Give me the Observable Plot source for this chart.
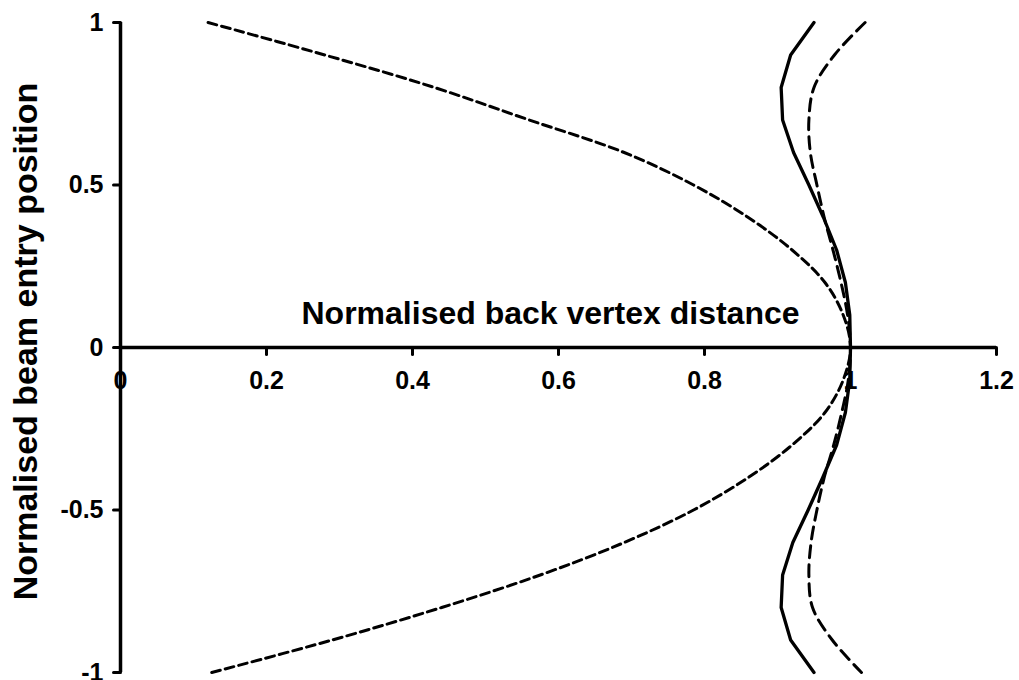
<!DOCTYPE html>
<html><head><meta charset="utf-8">
<script src="https://cdn.jsdelivr.net/npm/d3@7"></script>
<script src="https://cdn.jsdelivr.net/npm/@observablehq/plot@0.6"></script>
<style>body{margin:0;background:#fff}</style>
</head><body><div id="chart"></div>
<script>
// Beam entry positions (y) shared by all three curves
const entryPositions = [1, 0.9, 0.8, 0.7, 0.6, 0.5, 0.4, 0.3, 0.2, 0.1, 0, -0.1, -0.2, -0.3, -0.4, -0.5, -0.6, -0.7, -0.8, -0.9, -1];
// Back vertex distance (x) for each curve
const parabolaDist = [0.12, 0.28, 0.43, 0.56, 0.69, 0.785, 0.86, 0.92, 0.965, 0.99, 1.0, 0.99, 0.965, 0.92, 0.86, 0.785, 0.69, 0.575, 0.44, 0.29, 0.125];
const solidDist    = [0.95, 0.918, 0.905, 0.907, 0.922, 0.943, 0.963, 0.981, 0.993, 0.999, 1.0, 0.999, 0.993, 0.981, 0.962, 0.942, 0.921, 0.907, 0.905, 0.918, 0.95];
const dashedDist   = [1.02, 0.978, 0.95, 0.943, 0.945, 0.954, 0.964, 0.976, 0.987, 0.996, 1.0, 0.997, 0.988, 0.977, 0.964, 0.954, 0.946, 0.943, 0.948, 0.975, 1.015];

const xTicks = [0, 0.2, 0.4, 0.6, 0.8, 1, 1.2];
const xTickLabels = ["0", "0.2", "0.4", "0.6", "0.8", "1", "1.2"];
const yTicks = [1, 0.5, 0, -0.5, -1];
const yTickLabels = ["1", "0.5", "0", "-0.5", "-1"];
const xTitle = "Normalised back vertex distance";
const yTitle = "Normalised beam entry position";

const toPts = xs => xs.map((x, i) => ({x, y: entryPositions[i]}));
const parabola = toPts(parabolaDist);
const solid = toPts(solidDist);
const dashed = toPts(dashedDist);

const tickShape = {draw(ctx, l) { ctx.moveTo(0, 0); ctx.lineTo(0, -l); }};
const font = "'Liberation Sans', Arial, sans-serif";

const plot = Plot.plot({
  width: 1019,
  height: 680,
  marginLeft: 120,
  marginRight: 23,
  marginTop: 22,
  marginBottom: 8,
  style: {fontFamily: font, color: "black", background: "white", overflow: "visible"},
  x: {domain: [xTicks[0], xTicks[xTicks.length - 1]], axis: null},
  y: {domain: [yTicks[yTicks.length - 1], yTicks[0]], axis: null},
  marks: [
    // tick labels
    Plot.text(xTicks, {x: d => d, y: () => 0, text: (d, i) => xTickLabels[i], dy: 33, fontSize: 25, fontWeight: "bold", fill: "black"}),
    Plot.text(yTicks, {x: () => 0, y: d => d, text: (d, i) => yTickLabels[i], textAnchor: "end", dx: -17, fontSize: 25, fontWeight: "bold", fill: "black"}),
    // titles
    Plot.text([xTitle], {frameAnchor: "middle", textAnchor: "middle", text: d => d, dx: -8, dy: -34, fontSize: 32, fontWeight: "bold", fill: "black"}),
    Plot.text([yTitle], {frameAnchor: "left", textAnchor: "middle", text: d => d, rotate: -90, dx: -94, dy: -6, fontSize: 34, fontWeight: "bold", fill: "black"}),
    // axis lines
    Plot.ruleY([0], {x1: xTicks[0], x2: xTicks[xTicks.length - 1], stroke: "black", strokeWidth: 3.5}),
    Plot.ruleX([0], {y1: yTicks[yTicks.length - 1], y2: yTicks[0], stroke: "black", strokeWidth: 3.5}),
    // ticks
    Plot.vector(xTicks, {x: d => d, y: () => 0, length: 7, rotate: 180, anchor: "start", shape: tickShape, stroke: "black", strokeWidth: 3}),
    Plot.vector(yTicks, {x: () => 0, y: d => d, length: 7, rotate: -90, anchor: "start", shape: tickShape, stroke: "black", strokeWidth: 3}),
    // curves
    Plot.line(parabola, {x: "x", y: "y", stroke: "black", strokeWidth: 3, strokeDasharray: "9,5", curve: "catmull-rom"}),
    Plot.line(dashed, {x: "x", y: "y", stroke: "black", strokeWidth: 3, strokeDasharray: "12,7", curve: "catmull-rom"}),
    Plot.line(solid, {x: "x", y: "y", stroke: "black", strokeWidth: 3.3, curve: "linear"})
  ]
});
document.getElementById("chart").append(plot);
</script>
</body></html>
